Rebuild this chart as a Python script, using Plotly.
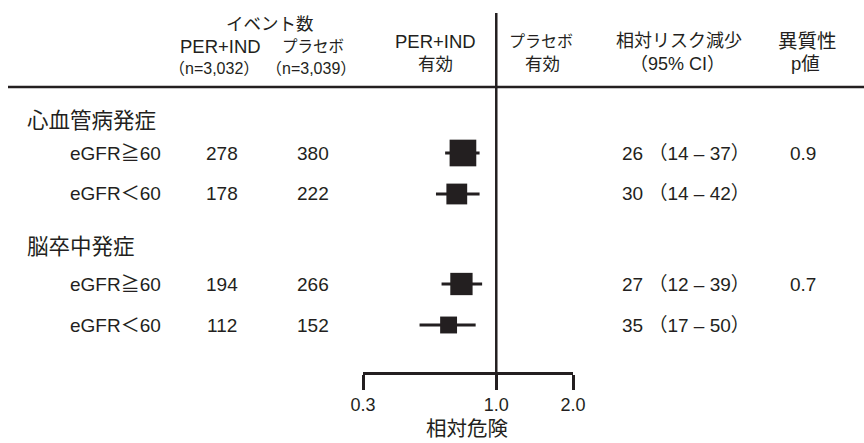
import math
import plotly.graph_objects as go

# ---- data -------------------------------------------------------------
groups = ["心血管病発症", "脳卒中発症"]
subgroups = ["eGFR≧60", "eGFR＜60", "eGFR≧60", "eGFR＜60"]
events_per_ind = [278, 178, 194, 112]      # PER+IND (n=3,032)
events_placebo = [380, 222, 266, 152]      # プラセボ (n=3,039)
rrr = [26, 30, 27, 35]                     # 相対リスク減少 (%)
rrr_lo = [14, 14, 12, 17]
rrr_hi = [37, 42, 39, 50]
p_hetero = ["0.9", "", "0.7", ""]
axis_ticks = [0.3, 1.0, 2.0]
axis_ticklabels = ["0.3", "1.0", "2.0"]

# relative risk derived from the relative risk reduction
hr = [1 - r / 100 for r in rrr]
hr_lo = [1 - h / 100 for h in rrr_hi]
hr_hi = [1 - l / 100 for l in rrr_lo]

# ---- layout geometry (pixels) ----------------------------------------
W, H = 864, 443
PLOT_L, PLOT_R, PLOT_T, PLOT_B = 363, 573, 13, 372
ROW_Y = [153, 194, 284, 325]
GROUP_Y = [121, 247]

INK = "#231f20"
FONT = "Arial, 'Liberation Sans', 'Noto Sans CJK JP', sans-serif"


def px(x):
    return (x - PLOT_L) / (PLOT_R - PLOT_L)


def py(y):
    return (PLOT_B - y) / (PLOT_B - PLOT_T)


annotations = []


def label(text, x, y, size=19, anchor="center"):
    annotations.append(dict(
        text=text, x=px(x), y=py(y), xref="paper", yref="paper",
        xanchor=anchor, yanchor="middle", showarrow=False,
        font=dict(family=FONT, size=size, color=INK),
    ))


# column headers
label("イベント数", 270, 24, 17.5)
label("PER+IND", 220, 46, 18.5)
label("プラセボ", 313, 46, 15.5)
label("（n=3,032）", 214, 68, 16)
label("（n=3,039）", 311, 68, 16)
label("PER+IND", 435, 41, 18.5)
label("有効", 435, 64, 17.5)
label("プラセボ", 541, 41, 16)
label("有効", 542, 64, 17.5)
label("相対リスク減少", 679, 41, 18)
label("（95% CI）", 677, 64, 18)
label("異質性", 807, 41, 19.5)
label("p値", 805, 64, 18.5)

# group titles and rows
for g, gy in zip(groups, GROUP_Y):
    label(g, 25, gy, 21.5, "left")
for i, yy in enumerate(ROW_Y):
    label(subgroups[i], 68, yy, 19, "left")
    label(str(events_per_ind[i]), 222, yy, 19)
    label(str(events_placebo[i]), 313, yy, 19)
    label(f"{rrr[i]} （{rrr_lo[i]} – {rrr_hi[i]}）", 620, yy, 19, "left")
    if p_hetero[i]:
        label(p_hetero[i], 803, yy, 19)

# x-axis title
label("相対危険", 467, 428, 20.5)

sizes = [math.sqrt(a + b) * 1.04 for a, b in zip(events_per_ind, events_placebo)]

fig = go.Figure(go.Scatter(
    x=hr, y=ROW_Y, mode="markers",
    marker=dict(symbol="square", size=sizes, color=INK, opacity=1,
                line=dict(width=0)),
    error_x=dict(type="data", symmetric=False,
                 array=[h2 - h for h, h2 in zip(hr, hr_hi)],
                 arrayminus=[h - h1 for h, h1 in zip(hr, hr_lo)],
                 thickness=3, width=0, color=INK),
    hoverinfo="skip", cliponaxis=False,
))

shapes = [
    # line of no effect
    dict(type="line", xref="x", yref="paper", x0=1, x1=1, y0=0, y1=1,
         line=dict(color=INK, width=2.5)),
    # rule under the header
    dict(type="line", xref="paper", yref="paper", x0=px(8), x1=px(864),
         y0=py(87), y1=py(87), line=dict(color=INK, width=2.5)),
]

fig.update_layout(
    width=W, height=H,
    margin=dict(l=PLOT_L, r=W - PLOT_R, t=PLOT_T, b=H - PLOT_B, pad=0),
    paper_bgcolor="white", plot_bgcolor="white",
    showlegend=False,
    annotations=annotations,
    shapes=shapes,
    xaxis=dict(
        type="log", range=[math.log10(0.3), math.log10(2.0)],
        tickvals=axis_ticks, ticktext=axis_ticklabels,
        ticks="outside", ticklen=15, tickwidth=2.5, tickcolor=INK,
        showline=True, linecolor=INK, linewidth=2.5,
        showgrid=False, zeroline=False, fixedrange=True,
        tickfont=dict(family=FONT, size=18, color=INK),
    ),
    yaxis=dict(range=[PLOT_B, PLOT_T], visible=False, fixedrange=True),
)

fig.write_html("out.html", config={"displayModeBar": False})
